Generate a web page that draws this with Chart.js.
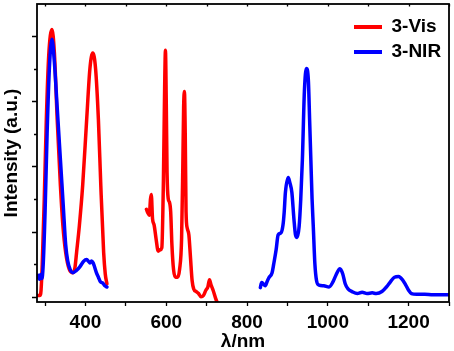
<!DOCTYPE html>
<html><head><meta charset="utf-8">
<script src="https://cdn.jsdelivr.net/npm/chart.js@4.4.0/dist/chart.umd.min.js"></script>
<style>html,body{margin:0;padding:0;background:#fff;overflow:hidden}canvas{display:block}</style>
</head><body>
<canvas id="c" width="454" height="351"></canvas>
<script>
const seriesNames = ['3-Vis', '3-NIR'];
const seriesColors = ['#ff0000', '#0000ff'];

const visWavelength = [280,287,290,293,298,303,309,317,323,330,338,344,351,360,369,374,378,385,393,403,411,418,425,432,438,445,449,453,
  500,
  551,555,558,561,563,566,570,575,580,585,589,593,596,598,600,602,605,608,611,614,618,623,628,633,638,641,643,645,647,649,652,656,660,664,668,674,680,686,692,698,703,707,711,716,722,728];
const visIntensity = [0.02,0.02,0.1,0.5,1.5,2.7,3.7,4.1,3.75,2.72,1.7,1.1,0.68,0.42,0.37,0.45,0.68,1.1,1.7,2.72,3.5,3.74,3.5,2.72,1.7,0.68,0.35,0.2,
  null,
  1.34,1.28,1.25,1.5,1.57,1.2,1.1,0.88,0.7,0.72,0.75,1.8,3.2,3.78,3.0,1.9,1.5,1.45,1.3,0.8,0.42,0.3,0.3,0.42,0.9,2.0,2.9,3.15,2.5,1.3,1.05,0.95,0.6,0.25,0.12,0.08,0.05,0.0,0.02,0.1,0.15,0.26,0.18,0.1,-0.02,-0.12];

const nirWavelength = [280,283,286,289,292,295,300,305,311,317,323,330,338,345,351,356,362,369,377,386,395,403,408,411,415,419,423,427,432,437,443,448,453,
  600,
  833,836,840,845,850,855,862,866,872,877,884,889,892,895,902,906,911,916,920,924,929,933,937,942,947,952,955,958,961,964,968,972,978,990,1003,1012,1020,1030,1037,1043,1050,1060,1073,1085,1097,1110,1120,1134,1145,1155,1165,1175,1185,1193,1200,1207,1220,1240,1260,1280,1300];
const nirIntensity = [0.3,0.33,0.27,0.34,0.28,0.45,1.3,2.5,3.55,3.95,3.6,2.9,2.1,1.4,0.8,0.55,0.42,0.37,0.4,0.46,0.54,0.57,0.54,0.52,0.55,0.52,0.45,0.37,0.3,0.23,0.21,0.17,0.15,
  null,
  0.14,0.22,0.2,0.17,0.24,0.3,0.37,0.5,0.72,0.95,0.98,1.1,1.3,1.6,1.83,1.75,1.6,1.2,0.95,0.91,1.08,1.5,2.1,3.15,3.5,3.3,2.7,2.1,1.5,1.08,0.5,0.25,0.18,0.17,0.15,0.22,0.33,0.43,0.35,0.2,0.12,0.08,0.05,0.07,0.05,0.06,0.05,0.08,0.15,0.23,0.3,0.31,0.26,0.18,0.1,0.05,0.04,0.04,0.03,0.03,0.03];

const xLabeledTicks = [400, 600, 800, 1000, 1200];
const xTitle = 'λ/nm';
const yTitle = 'Intensity (a.u.)';

const FONT = '"Liberation Sans", Arial, Helvetica, sans-serif';
Chart.defaults.font.family = FONT;
Chart.defaults.color = '#000';

const toPoints = (xs, ys) => xs.map((x, i) => ({x: x, y: ys[i]}));

const framePlugin = {
  id: 'frame',
  afterLayout(chart) {
    const L = chart.legend;
    if (!L) return;
    const a = chart.chartArea;
    const w = L.width;
    L.left = a.right - 101;
    L.right = L.left + w;
    L.top = a.top + 7.5;
  },
  afterDraw(chart) {
    const {ctx, chartArea: a, scales: {x, y}} = chart;
    ctx.save();
    ctx.strokeStyle = '#000';
    ctx.lineWidth = 1.8;
    ctx.strokeRect(a.left, a.top, a.right - a.left, a.bottom - a.top);
    ctx.lineWidth = 1.3;
    ctx.beginPath();
    y.ticks.forEach(t => {
      const py = Math.round(y.getPixelForValue(t.value)) + 0.5;
      const len = Number.isInteger(Math.round(t.value * 1000) / 1000) ? 5 : 3;
      ctx.moveTo(a.left - len, py); ctx.lineTo(a.left, py);
    });
    x.ticks.forEach(t => {
      const px = Math.round(x.getPixelForValue(t.value)) + 0.5;
      ctx.moveTo(px, a.top); ctx.lineTo(px, a.top + 2.5);
    });
    ctx.stroke();
    ctx.restore();
  }
};

new Chart(document.getElementById('c'), {
  type: 'line',
  data: {
    datasets: [
      {label: seriesNames[0], data: toPoints(visWavelength, visIntensity), borderColor: seriesColors[0], backgroundColor: seriesColors[0], order: 2},
      {label: seriesNames[1], data: toPoints(nirWavelength, nirIntensity), borderColor: seriesColors[1], backgroundColor: seriesColors[1], order: 1}
    ]
  },
  options: {
    responsive: false,
    animation: false,
    spanGaps: false,
    layout: {padding: {top: 4, right: 3, left: 0, bottom: 0}},
    elements: {
      point: {radius: 0, hoverRadius: 0},
      line: {borderWidth: 3.5, cubicInterpolationMode: 'monotone', fill: false, borderJoinStyle: 'round', borderCapStyle: 'round'}
    },
    plugins: {
      tooltip: {enabled: false},
      legend: {
        position: 'chartArea',
        align: 'start',
        labels: {
          boxWidth: 28, boxHeight: 4, padding: 6, color: '#000',
          font: {family: FONT, size: 19, weight: 'bold'},
          generateLabels: chart => chart.data.datasets.map((ds, i) => ({
            text: ds.label, fillStyle: ds.borderColor, strokeStyle: ds.borderColor,
            lineWidth: 0, hidden: false, datasetIndex: i, fontColor: '#000'
          }))
        }
      }
    },
    scales: {
      x: {
        type: 'linear', min: 280, max: 1300,
        ticks: {
          stepSize: 100, includeBounds: false, autoSkip: false, maxRotation: 0, padding: 5, color: '#000',
          font: {family: FONT, size: 19, weight: 'bold'},
          callback: v => xLabeledTicks.includes(v) ? String(v) : ''
        },
        grid: {drawOnChartArea: false, drawTicks: true, tickLength: 4, tickColor: '#000', tickWidth: 1.3},
        border: {display: false},
        title: {display: true, text: xTitle, color: '#000', font: {family: FONT, size: 19, weight: 'bold', lineHeight: 1}, padding: 0},
        afterFit: s => { s.height = 49; }
      },
      y: {
        type: 'linear', min: -0.08, max: 4.49,
        ticks: {display: false, stepSize: 0.5, includeBounds: false},
        grid: {display: true, drawOnChartArea: false, drawTicks: false},
        border: {display: false},
        title: {display: true, text: yTitle, color: '#000', font: {family: FONT, size: 19, weight: 'bold'}, padding: 0},
        afterFit: s => { s.width = 37; }
      }
    }
  },
  plugins: [framePlugin]
});
</script>
</body></html>
